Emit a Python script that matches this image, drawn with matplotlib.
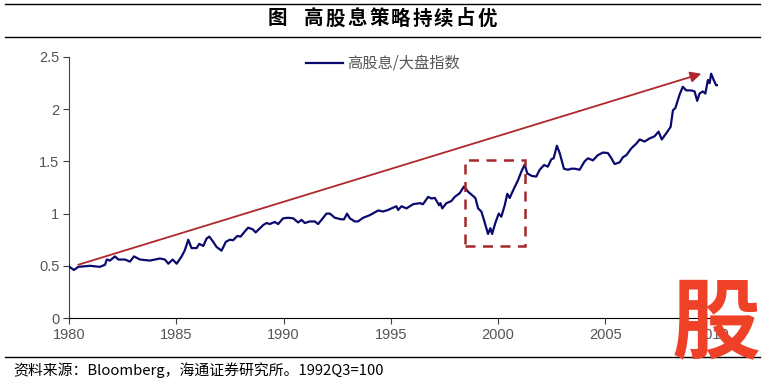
import matplotlib
matplotlib.use("Agg")
import matplotlib.pyplot as plt
from matplotlib.lines import Line2D
from matplotlib.patches import Rectangle

plt.rcParams['font.family'] = ['Liberation Sans', 'Noto Sans CJK SC', 'DejaVu Sans']
CJK = ['Noto Sans CJK SC', 'DejaVu Sans']

# high dividend / broad market index ratio (1992Q3=100)
years = [1980.02, 1980.23, 1980.43, 1980.98, 1981.44, 1981.68, 1981.76, 1981.91,
         1982.14, 1982.30, 1982.61, 1982.84, 1983.03, 1983.31, 1983.77, 1984.24,
         1984.47, 1984.63, 1984.83, 1985.02, 1985.25, 1985.40, 1985.56, 1985.71,
         1985.95, 1986.07, 1986.26, 1986.41, 1986.54, 1986.72, 1986.88, 1987.11,
         1987.31, 1987.50, 1987.65, 1987.84, 1988.00, 1988.20, 1988.35, 1988.56,
         1988.70, 1988.90, 1989.05, 1989.21, 1989.36, 1989.59, 1989.75, 1989.98,
         1990.21, 1990.45, 1990.68, 1990.84, 1990.99, 1991.22, 1991.46, 1991.61,
         1991.77, 1992.00, 1992.16, 1992.39, 1992.70, 1992.82, 1992.96, 1993.09,
         1993.32, 1993.47, 1993.71, 1994.02, 1994.41, 1994.64, 1994.87, 1995.03,
         1995.26, 1995.34, 1995.50, 1995.73, 1996.04, 1996.35, 1996.50, 1996.74,
         1996.89, 1997.05, 1997.25, 1997.31, 1997.40, 1997.59, 1997.82, 1997.98,
         1998.21, 1998.41, 1998.60, 1998.83, 1998.94, 1999.07, 1999.22, 1999.34,
         1999.45, 1999.53, 1999.64, 1999.72, 1999.87, 2000.03, 2000.15, 2000.31,
         2000.43, 2000.54, 2000.74, 2000.93, 2001.08, 2001.24, 2001.36, 2001.58,
         2001.78, 2001.94, 2002.14, 2002.32, 2002.48, 2002.59, 2002.74, 2002.87,
         2003.07, 2003.26, 2003.41, 2003.57, 2003.80, 2004.03, 2004.19, 2004.42,
         2004.65, 2004.89, 2005.12, 2005.28, 2005.43, 2005.66, 2005.82, 2005.98,
         2006.21, 2006.44, 2006.60, 2006.83, 2007.06, 2007.29, 2007.48, 2007.63,
         2007.84, 2008.04, 2008.15, 2008.26, 2008.35, 2008.46, 2008.61, 2008.77,
         2009.00, 2009.16, 2009.28, 2009.39, 2009.54, 2009.66, 2009.78, 2009.86,
         2009.93, 2010.05, 2010.16, 2010.27]
ratio = [0.49, 0.46, 0.49, 0.50, 0.49, 0.51, 0.56, 0.55,
         0.59, 0.56, 0.56, 0.54, 0.59, 0.56, 0.55, 0.57,
         0.56, 0.52, 0.56, 0.52, 0.59, 0.65, 0.75, 0.67,
         0.67, 0.71, 0.69, 0.76, 0.78, 0.73, 0.68, 0.645,
         0.73, 0.75, 0.745, 0.785, 0.78, 0.83, 0.865, 0.85,
         0.82, 0.86, 0.89, 0.91, 0.90, 0.92, 0.90, 0.955,
         0.96, 0.955, 0.915, 0.94, 0.91, 0.925, 0.925, 0.90,
         0.94, 1.00, 1.00, 0.96, 0.945, 0.945, 1.00, 0.955,
         0.925, 0.925, 0.96, 0.985, 1.03, 1.02, 1.035, 1.05,
         1.07, 1.035, 1.07, 1.05, 1.09, 1.10, 1.09, 1.16,
         1.145, 1.15, 1.08, 1.10, 1.05, 1.10, 1.12, 1.16,
         1.195, 1.26, 1.21, 1.17, 1.15, 1.05, 1.02, 0.94,
         0.86, 0.805, 0.86, 0.805, 0.91, 1.00, 0.97, 1.08,
         1.19, 1.15, 1.24, 1.32, 1.40, 1.47, 1.385, 1.36,
         1.355, 1.42, 1.465, 1.45, 1.52, 1.53, 1.65, 1.58,
         1.43, 1.42, 1.43, 1.43, 1.42, 1.50, 1.53, 1.51,
         1.56, 1.585, 1.58, 1.53, 1.475, 1.49, 1.54, 1.56,
         1.625, 1.67, 1.71, 1.69, 1.72, 1.74, 1.785, 1.71,
         1.77, 1.83, 1.99, 2.01, 2.07, 2.14, 2.215, 2.18,
         2.18, 2.17, 2.08, 2.15, 2.17, 2.15, 2.28, 2.25,
         2.34, 2.28, 2.23, 2.23]

xticks = [1980, 1985, 1990, 1995, 2000, 2005, 2010]
yticks = [0, 0.5, 1, 1.5, 2, 2.5]
ytick_labels = ['0', '0.5', '1', '1.5', '2', '2.5']

trend_start = (1980.43, 0.51)
trend_end = (2009.47, 2.34)
box_x = (1998.47, 2001.24)
box_y = (0.69, 1.51)

title_head = '图'
title_body = '高股息策略持续占优'
series_name = '高股息/大盘指数'
source = '资料来源：Bloomberg，海通证券研究所。1992Q3=100'

W, H = 769, 385
fig = plt.figure(figsize=(W / 100, H / 100), dpi=100)
ax = fig.add_axes([69 / W, 1 - 318 / H, (718 - 69) / W, (318 - 57) / H])

ax.plot(years, ratio, color='#0A0A6E', lw=1.6, label=series_name, zorder=3)

ax.annotate('', xy=trend_end, xytext=trend_start,
            arrowprops=dict(arrowstyle='-|>', color='#B0262A', lw=1.3,
                            mutation_scale=16, shrinkA=0, shrinkB=0))
ax.add_patch(Rectangle((box_x[0], box_y[0]), box_x[1] - box_x[0], box_y[1] - box_y[0],
                       fill=False, edgecolor='#A3282B', lw=1.8, ls=(0, (4, 3)), zorder=4))

ax.set_xlim(1980, 2010.25)
ax.set_ylim(0, 2.5)
ax.set_xticks(xticks)
ax.set_yticks(yticks)
ax.set_yticklabels(ytick_labels)
for s in ['top', 'right']:
    ax.spines[s].set_visible(False)
ax.spines['left'].set_color('#404040')
ax.spines['bottom'].set_color('black')
ax.tick_params(axis='both', direction='out', length=4, width=0.8,
               labelsize=10.5, labelcolor='#555555', color='#404040')
ax.tick_params(axis='y', pad=3)
ax.tick_params(axis='x', pad=3)

leg = ax.legend(loc='upper left', bbox_to_anchor=(306 / W, 1 - 55 / H),
                bbox_transform=fig.transFigure, frameon=False, borderpad=0,
                borderaxespad=0, handlelength=2.4, handletextpad=0.3,
                prop={'family': CJK, 'size': 11})
for t in leg.get_texts():
    t.set_color('#555555')

# frame lines and texts
for yy in [4, 37, 357]:
    fig.add_artist(Line2D([5 / W, 760 / W], [1 - yy / H] * 2, color='black', lw=1.0,
                          transform=fig.transFigure))
# title, spaced out character by character like the original
fig.text(277 / W, 1 - 19 / H, title_head, ha='center', va='center', fontsize=14,
         fontweight='bold', family=CJK)
for i, ch in enumerate(title_body):
    fig.text((314 + i * 21.6) / W, 1 - 19 / H, ch, ha='center', va='center',
             fontsize=14, fontweight='bold', family=CJK)
fig.text(13 / W, 1 - 370 / H, source, ha='left', va='center', fontsize=10.7,
         family=CJK, color='black')

# watermark logo
fig.text(716 / W, 1 - 325 / H, '股', ha='center', va='center', fontsize=64,
         fontweight='bold', family=CJK, color='#EE4128', zorder=20)

fig.savefig('out.png', dpi=100)
